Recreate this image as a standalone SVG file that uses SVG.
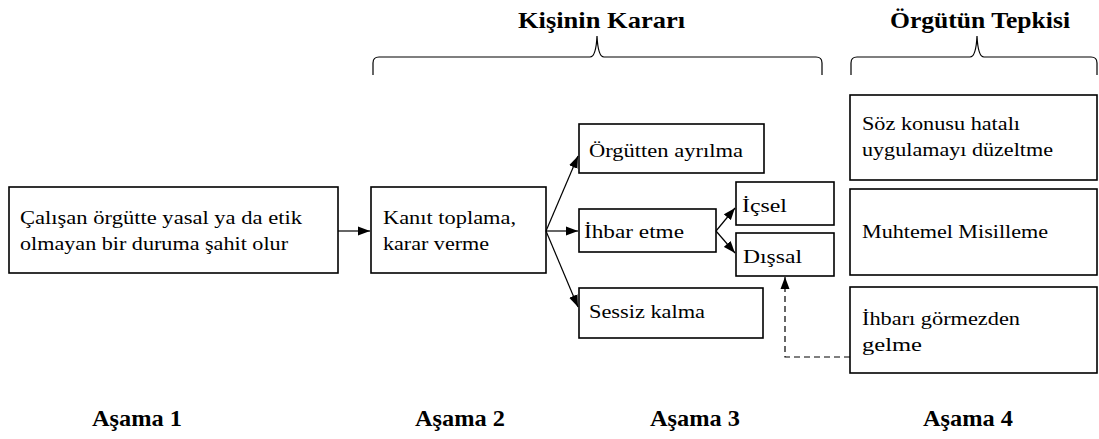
<svg xmlns="http://www.w3.org/2000/svg" width="1099" height="439" viewBox="0 0 1099 439">
  <defs>
    <marker id="arrow" viewBox="0 0 12 10" refX="12" refY="5" markerWidth="12" markerHeight="10" markerUnits="userSpaceOnUse" orient="auto">
      <path d="M0,0.5 L12,5 L0,9.5 Z" fill="#000"/>
    </marker>
  </defs>

  <!-- Section headings with braces -->
  <g id="heading-decision">
    <text x="518" y="28" font-family="Liberation Serif" font-size="24" font-weight="bold" textLength="167" lengthAdjust="spacingAndGlyphs">Kişinin Kararı</text>
    <path d="M373,75 L373,63 Q373,57 379,57 L590,57 Q596,57 597,36 Q598,57 604,57 L816,57 Q822,57 822,63 L822,75" fill="none" stroke="#000" stroke-width="1.2"/>
  </g>
  <g id="heading-response">
    <text x="890" y="28" font-family="Liberation Serif" font-size="24" font-weight="bold" textLength="180" lengthAdjust="spacingAndGlyphs">Örgütün Tepkisi</text>
    <path d="M851,75 L851,63 Q851,57 857,57 L970,57 Q976,57 977,36 Q978,57 984,57 L1091,57 Q1097,57 1097,63 L1097,75" fill="none" stroke="#000" stroke-width="1.2"/>
  </g>

  <!-- Stage 1 -->
  <g id="witness">
    <rect x="9" y="187" width="329" height="86" fill="#fff" stroke="#000" stroke-width="1.6"/>
    <text x="20" y="224" font-family="Liberation Serif" font-size="19" textLength="282" lengthAdjust="spacingAndGlyphs">Çalışan örgütte yasal ya da etik</text>
    <text x="20" y="250" font-family="Liberation Serif" font-size="19" textLength="268" lengthAdjust="spacingAndGlyphs">olmayan bir duruma şahit olur</text>
  </g>

  <!-- Stage 2 -->
  <g id="evidence">
    <rect x="371" y="187" width="175" height="86" fill="#fff" stroke="#000" stroke-width="1.6"/>
    <text x="383" y="224" font-family="Liberation Serif" font-size="19" textLength="133" lengthAdjust="spacingAndGlyphs">Kanıt toplama,</text>
    <text x="383" y="250" font-family="Liberation Serif" font-size="19" textLength="106" lengthAdjust="spacingAndGlyphs">karar verme</text>
  </g>

  <!-- Stage 3 -->
  <g id="leave">
    <rect x="579" y="124" width="185" height="49" fill="#fff" stroke="#000" stroke-width="1.6"/>
    <text x="589" y="157" font-family="Liberation Serif" font-size="19" textLength="154" lengthAdjust="spacingAndGlyphs">Örgütten ayrılma</text>
  </g>
  <g id="report">
    <rect x="579" y="209" width="137" height="43" fill="#fff" stroke="#000" stroke-width="1.6"/>
    <text x="584" y="238" font-family="Liberation Serif" font-size="19" textLength="100" lengthAdjust="spacingAndGlyphs">İhbar etme</text>
  </g>
  <g id="internal">
    <rect x="736" y="182" width="98" height="43" fill="#fff" stroke="#000" stroke-width="1.6"/>
    <text x="742" y="212" font-family="Liberation Serif" font-size="19" textLength="45" lengthAdjust="spacingAndGlyphs">İçsel</text>
  </g>
  <g id="external">
    <rect x="736" y="233" width="98" height="43" fill="#fff" stroke="#000" stroke-width="1.6"/>
    <text x="743" y="263" font-family="Liberation Serif" font-size="19" textLength="59" lengthAdjust="spacingAndGlyphs">Dışsal</text>
  </g>
  <g id="silent">
    <rect x="579" y="288" width="184" height="50" fill="#fff" stroke="#000" stroke-width="1.6"/>
    <text x="589" y="318" font-family="Liberation Serif" font-size="19" textLength="116" lengthAdjust="spacingAndGlyphs">Sessiz kalma</text>
  </g>

  <!-- Stage 4 -->
  <g id="correct">
    <rect x="850" y="95" width="247" height="85" fill="#fff" stroke="#000" stroke-width="1.6"/>
    <text x="862" y="130" font-family="Liberation Serif" font-size="19" textLength="158" lengthAdjust="spacingAndGlyphs">Söz konusu hatalı</text>
    <text x="862" y="156" font-family="Liberation Serif" font-size="19" textLength="191" lengthAdjust="spacingAndGlyphs">uygulamayı düzeltme</text>
  </g>
  <g id="retaliation">
    <rect x="850" y="189" width="247" height="86" fill="#fff" stroke="#000" stroke-width="1.6"/>
    <text x="862" y="238" font-family="Liberation Serif" font-size="19" textLength="186" lengthAdjust="spacingAndGlyphs">Muhtemel Misilleme</text>
  </g>
  <g id="ignore">
    <rect x="850" y="287" width="247" height="86" fill="#fff" stroke="#000" stroke-width="1.6"/>
    <text x="862" y="325" font-family="Liberation Serif" font-size="19" textLength="158" lengthAdjust="spacingAndGlyphs">İhbarı görmezden</text>
    <text x="862" y="351" font-family="Liberation Serif" font-size="19" textLength="60" lengthAdjust="spacingAndGlyphs">gelme</text>
  </g>

  <!-- Stage labels -->
  <g id="stages">
    <text x="92" y="426" font-family="Liberation Serif" font-size="24" font-weight="bold" textLength="90" lengthAdjust="spacingAndGlyphs">Aşama 1</text>
    <text x="415" y="426" font-family="Liberation Serif" font-size="24" font-weight="bold" textLength="90" lengthAdjust="spacingAndGlyphs">Aşama 2</text>
    <text x="650" y="426" font-family="Liberation Serif" font-size="24" font-weight="bold" textLength="90" lengthAdjust="spacingAndGlyphs">Aşama 3</text>
    <text x="923" y="426" font-family="Liberation Serif" font-size="24" font-weight="bold" textLength="90" lengthAdjust="spacingAndGlyphs">Aşama 4</text>
  </g>

  <!-- Connectors -->
  <g id="connectors" fill="none" stroke="#000" stroke-width="1.2">
    <line x1="338" y1="231" x2="370" y2="231" marker-end="url(#arrow)"/>
    <line x1="546" y1="231" x2="578" y2="156" marker-end="url(#arrow)"/>
    <line x1="546" y1="231" x2="578" y2="231" marker-end="url(#arrow)"/>
    <line x1="546" y1="231" x2="578" y2="307" marker-end="url(#arrow)"/>
    <line x1="716" y1="231" x2="735" y2="208" marker-end="url(#arrow)"/>
    <line x1="716" y1="231" x2="735" y2="253" marker-end="url(#arrow)"/>
    <path d="M850,357 L785,357 L785,277" stroke-dasharray="6 4" marker-end="url(#arrow)"/>
  </g>
</svg>
